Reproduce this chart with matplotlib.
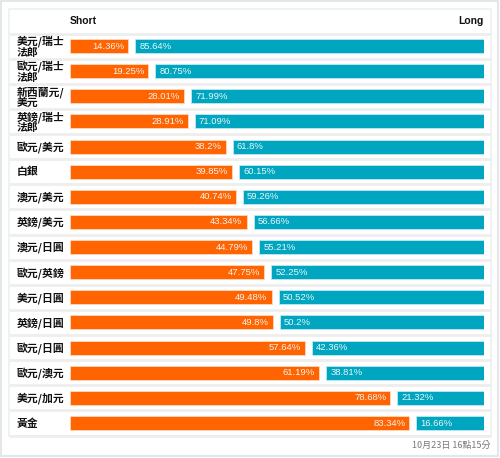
import matplotlib
matplotlib.use("Agg")
import matplotlib.pyplot as plt
from matplotlib.patches import Rectangle

categories = ["美元/瑞士\n法郎", "歐元/瑞士\n法郎", "新西蘭元/\n美元", "英鎊/瑞士\n法郎",
              "歐元/美元", "白銀", "澳元/美元", "英鎊/美元", "澳元/日圓", "歐元/英鎊",
              "美元/日圓", "英鎊/日圓", "歐元/日圓", "歐元/澳元", "美元/加元", "黃金"]
short_vals = [14.36, 19.25, 28.01, 28.91, 38.2, 39.85, 40.74, 43.34, 44.79, 47.75,
              49.48, 49.8, 57.64, 61.19, 78.68, 83.34]
long_vals = [85.64, 80.75, 71.99, 71.09, 61.8, 60.15, 59.26, 56.66, 55.21, 52.25,
             50.52, 50.2, 42.36, 38.81, 21.32, 16.66]
header_short = "Short"
header_long = "Long"
timestamp = "10月23日 16點15分"

W, H = 500, 458
fig = plt.figure(figsize=(W / 100, H / 100), dpi=100)
fig.patch.set_facecolor("white")

CJK = ["Noto Sans CJK TC", "DejaVu Sans"]
NUM = ["Liberation Sans", "DejaVu Sans"]

# overlay axes in pixel coordinates for decorations
deco = fig.add_axes([0, 0, 1, 1])
deco.set_xlim(0, W)
deco.set_ylim(H, 0)
deco.axis("off")
deco.add_patch(Rectangle((1, 1), 497, 455, fill=False, edgecolor="#dde3e3", lw=1.2))
deco.add_patch(Rectangle((8.5, 8.5), 482.5, 427, fill=False, edgecolor="#eef0f0", lw=1.2))

n = len(categories)
row_top = 33.5
row_h = 25.13
for i in range(n + 1):
    y = row_top + i * row_h
    deco.plot([8.5, 491], [y, y], color="#eeeeee", lw=2, solid_capstyle="butt")

deco.text(70, 20.5, header_short, fontsize=7.5, fontweight="bold", family=NUM,
          ha="left", va="center", color="#111111")
deco.text(484, 20.5, header_long, fontsize=7.5, fontweight="bold", family=NUM,
          ha="right", va="center", color="#111111")
deco.text(491, 445, timestamp, fontsize=6.5, family=CJK, ha="right", va="center",
          color="#777777")

for i, cat in enumerate(categories):
    yc = row_top + (i + 0.5) * row_h
    deco.text(17, yc + 0.5, cat, fontsize=7.8, fontweight="bold", family=CJK,
              ha="left", va="center", color="#111111", linespacing=1.0)

# bar axes
x0, x1 = 70, 484.3
y_top, y_bot = row_top, row_top + n * row_h
ax = fig.add_axes([x0 / W, 1 - y_bot / H, (x1 - x0) / W, (y_bot - y_top) / H])
ax.patch.set_alpha(0)
gap = 7 / 407 * 100
ax.set_xlim(0, 100 + gap)
ax.set_ylim(n - 0.5, -0.5)
ax.axis("off")

ypos = list(range(n))
bh = 14 / row_h
ax.barh(ypos, short_vals, height=bh, left=0, color="#ff6400", edgecolor="#ffd9c0", lw=0.6)
lefts = [s + gap for s in short_vals]
ax.barh(ypos, long_vals, height=bh, left=lefts, color="#00a5bf", edgecolor="#bfe9ef", lw=0.6)

for i in range(n):
    ax.annotate(f"{short_vals[i]:g}%", (short_vals[i], i), xytext=(-3, 0),
                textcoords="offset points", ha="right", va="center",
                fontsize=6.8, family=NUM, color="#f4f4f4")
    ax.annotate(f"{long_vals[i]:g}%", (lefts[i], i), xytext=(3, 0),
                textcoords="offset points", ha="left", va="center",
                fontsize=6.8, family=NUM, color="#eaf7f9")

fig.savefig("out.png", dpi=100)
